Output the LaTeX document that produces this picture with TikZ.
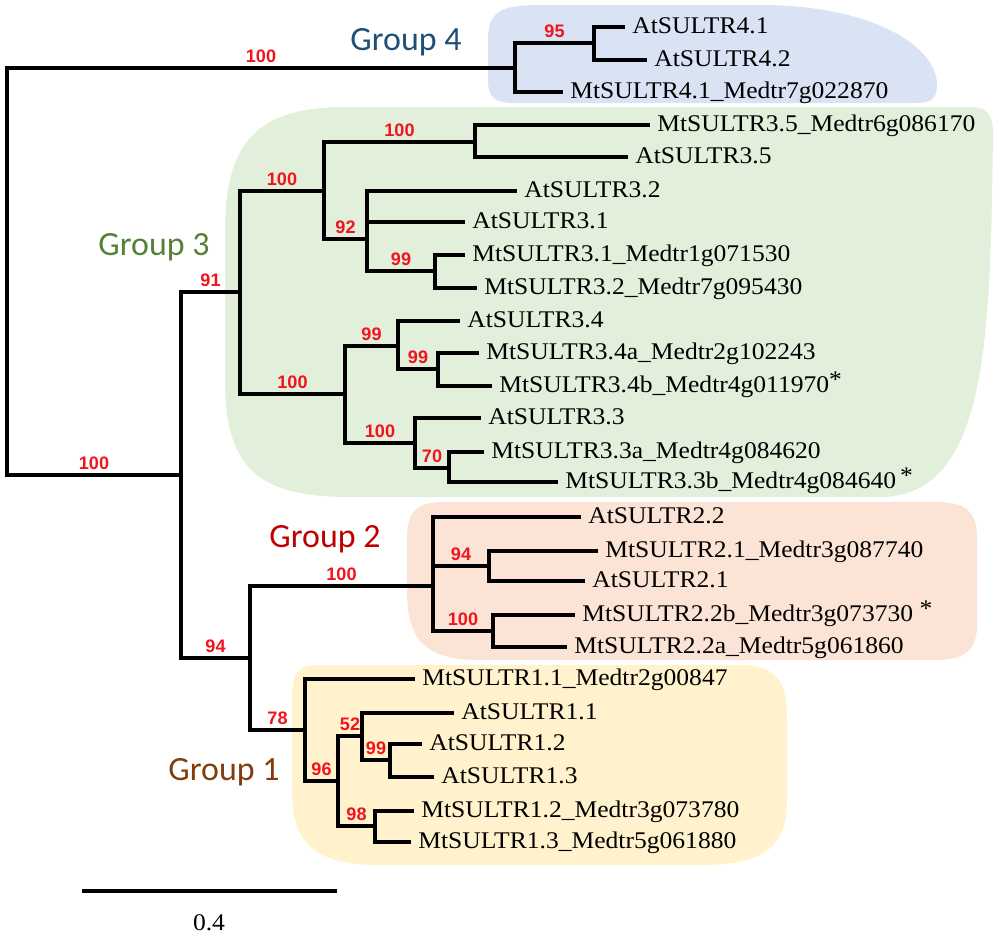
\documentclass[tikz,border=0pt]{standalone}
\usepackage{fontspec}
\setmainfont{Liberation Serif}
\newfontfamily\leaffont{Liberation Serif}[FakeStretch=1.07]
\newfontfamily\bootfont{Liberation Sans}
\newfontfamily\groupfont{Carlito}

\definecolor{bootred}{HTML}{F0141E}
\definecolor{gfour}{HTML}{DAE3F3}
\definecolor{gthree}{HTML}{E2EFDA}
\definecolor{gtwo}{HTML}{FBE4D5}
\definecolor{gone}{HTML}{FFF2CC}
\definecolor{gfourtext}{HTML}{1F4E79}
\definecolor{gthreetext}{HTML}{548235}
\definecolor{gtwotext}{HTML}{C00000}
\definecolor{gonetext}{HTML}{843C0C}

\newcommand\astmark{\raisebox{2.5pt}{*}}

\tikzset{
  branch/.style={line width=1.8pt},
  leaf/.style={anchor=west, inner xsep=4pt, inner ysep=0pt, text height=9.3pt, text depth=2.4pt,
    font=\leaffont\fontsize{13.6pt}{15pt}\selectfont},
  boot/.style={pos=.75, above, inner sep=2.2pt, text=bootred,
    font=\bootfont\bfseries\fontsize{10.3pt}{12pt}\selectfont},
  grouplabel/.style={anchor=base, font=\groupfont\fontsize{19.3pt}{22pt}\selectfont},
}

\begin{document}
\begin{tikzpicture}[x=0.02cm, y=-0.02cm]
\useasboundingbox (0,0) rectangle (1000,937);

% group backgrounds
\fill[gfour] (488,40) .. controls (488,12) and (500,5) .. (540,5) -- (760,5) .. controls (870,5) and (937,45) .. (937,85) .. controls (937,98) and (932,103) .. (915,103) -- (515,103) .. controls (495,103) and (488,98) .. (488,80) -- cycle;
\fill[gthree] (225,230) .. controls (225,140) and (260,107) .. (345,107) -- (970,107) .. controls (988,107) and (993,115) .. (993,135) .. controls (990,330) and (990,497) .. (880,497) -- (350,497) .. controls (260,497) and (225,470) .. (225,380) -- cycle;
\fill[gtwo] (407,540) .. controls (407,512) and (415,502) .. (445,502) -- (937,502) .. controls (970,502) and (977,515) .. (977,540) -- (977,625) .. controls (977,650) and (965,660) .. (935,660) -- (480,660) .. controls (425,660) and (407,640) .. (407,590) -- cycle;
\fill[gone] (292,700) .. controls (292,672) and (297,665) .. (320,665) -- (740,665) .. controls (780,665) and (787,685) .. (787,720) -- (787,800) .. controls (787,850) and (760,865) .. (700,865) -- (380,865) .. controls (310,865) and (292,840) .. (292,790) -- cycle;

\node[grouplabel, text=gfourtext] (g4) at (406,50) {Group 4};
\node[grouplabel, text=gthreetext] (g3) at (154,255) {Group 3};
\node[grouplabel, text=gtwotext] (g2) at (325,547) {Group 2};
\node[grouplabel, text=gonetext] (g1) at (224,780) {Group 1};

% inner nodes of the tree
\coordinate (root) at (7,272);
\coordinate (n4) at (515,68);
\coordinate (n41) at (594,43);
\coordinate (nA) at (181,475);
\coordinate (n3) at (240,292);
\coordinate (nB) at (324,191);
\coordinate (nC) at (475,142);
\coordinate (nD) at (367,239);
\coordinate (nDa) at (367,207);
\coordinate (nE) at (435,271);
\coordinate (nF) at (345,394);
\coordinate (nG) at (398,346);
\coordinate (nH) at (438,369);
\coordinate (nI) at (415,443);
\coordinate (nJ) at (449,468);
\coordinate (nK) at (250,658);
\coordinate (nL) at (433,586);
\coordinate (nLa) at (433,541);
\coordinate (nM) at (489,566);
\coordinate (nN) at (493,631);
\coordinate (nO) at (305,730);
\coordinate (nP) at (338,781);
\coordinate (nQ) at (362,736);
\coordinate (nR) at (390,760);
\coordinate (nS) at (375,826);

% leaves
\node[leaf] (at41) at (625,27) {AtSULTR4.1};
\node[leaf] (at42) at (647,60) {AtSULTR4.2};
\node[leaf] (mt41) at (563,92) {MtSULTR4.1\_Medtr7g022870};
\node[leaf] (mt35) at (650,125) {MtSULTR3.5\_Medtr6g086170};
\node[leaf] (at35) at (628,157) {AtSULTR3.5};
\node[leaf] (at32) at (517,191) {AtSULTR3.2};
\node[leaf] (at31) at (465,222) {AtSULTR3.1};
\node[leaf] (mt31) at (465,255) {MtSULTR3.1\_Medtr1g071530};
\node[leaf] (mt32) at (477,288) {MtSULTR3.2\_Medtr7g095430};
\node[leaf] (at34) at (460,321) {AtSULTR3.4};
\node[leaf] (mt34a) at (479,353) {MtSULTR3.4a\_Medtr2g102243};
\node[leaf] (mt34b) at (492,386) {MtSULTR3.4b\_Medtr4g011970\astmark};
\node[leaf] (at33) at (481,418) {AtSULTR3.3};
\node[leaf] (mt33a) at (484,452) {MtSULTR3.3a\_Medtr4g084620};
\node[leaf] (mt33b) at (558,482) {MtSULTR3.3b\_Medtr4g084640\,\astmark};
\node[leaf] (at22) at (581,517) {AtSULTR2.2};
\node[leaf] (mt21) at (598,551) {MtSULTR2.1\_Medtr3g087740};
\node[leaf] (at21) at (585,581) {AtSULTR2.1};
\node[leaf] (mt22b) at (575,615) {MtSULTR2.2b\_Medtr3g073730 \astmark};
\node[leaf] (mt22a) at (567,647) {MtSULTR2.2a\_Medtr5g061860};
\node[leaf] (mt11) at (415,679) {MtSULTR1.1\_Medtr2g00847};
\node[leaf] (at11) at (454,713) {AtSULTR1.1};
\node[leaf] (at12) at (422,744) {AtSULTR1.2};
\node[leaf] (at13) at (434,777) {AtSULTR1.3};
\node[leaf] (mt12) at (414,811) {MtSULTR1.2\_Medtr3g073780};
\node[leaf] (mt13) at (411,842) {MtSULTR1.3\_Medtr5g061880};

% branches with bootstrap values
\draw[branch] (root) |- node[boot] {100} (n4);
\draw[branch] (n4) |- node[boot] {95} (n41);
\draw[branch] (root) |- node[boot] {100} (nA);
\draw[branch] (nA) |- node[boot] {91} (n3);
\draw[branch] (n3) |- node[boot] {100} (nB);
\draw[branch] (nB) |- node[boot] {100} (nC);
\draw[branch] (nB) |- node[boot] {92} (nD);
\draw[branch] (nD) |- (nDa);
\draw[branch] (nD) |- node[boot] {99} (nE);
\draw[branch] (n3) |- node[boot] {100} (nF);
\draw[branch] (nF) |- node[boot] {99} (nG);
\draw[branch] (nG) |- node[boot] {99} (nH);
\draw[branch] (nF) |- node[boot] {100} (nI);
\draw[branch] (nI) |- node[boot] {70} (nJ);
\draw[branch] (nA) |- node[boot] {94} (nK);
\draw[branch] (nK) |- node[boot] {100} (nL);
\draw[branch] (nL) |- (nLa);
\draw[branch] (nLa) |- node[boot] {94} (nM);
\draw[branch] (nL) |- node[boot] {100} (nN);
\draw[branch] (nK) |- node[boot] {78} (nO);
\draw[branch] (nO) |- node[boot] {96} (nP);
\draw[branch] (nP) |- node[boot] {52} (nQ);
\draw[branch] (nQ) |- node[boot] {99} (nR);
\draw[branch] (nP) |- node[boot] {98} (nS);

% terminal branches
\draw[branch] (n41) |- (at41.west);
\draw[branch] (n41) |- (at42.west);
\draw[branch] (n4) |- (mt41.west);
\draw[branch] (nC) |- (mt35.west);
\draw[branch] (nC) |- (at35.west);
\draw[branch] (nDa) |- (at32.west);
\draw[branch] (nDa) |- (at31.west);
\draw[branch] (nE) |- (mt31.west);
\draw[branch] (nE) |- (mt32.west);
\draw[branch] (nG) |- (at34.west);
\draw[branch] (nH) |- (mt34a.west);
\draw[branch] (nH) |- (mt34b.west);
\draw[branch] (nI) |- (at33.west);
\draw[branch] (nJ) |- (mt33a.west);
\draw[branch] (nJ) |- (mt33b.west);
\draw[branch] (nLa) |- (at22.west);
\draw[branch] (nM) |- (mt21.west);
\draw[branch] (nM) |- (at21.west);
\draw[branch] (nN) |- (mt22b.west);
\draw[branch] (nN) |- (mt22a.west);
\draw[branch] (nO) |- (mt11.west);
\draw[branch] (nQ) |- (at11.west);
\draw[branch] (nR) |- (at12.west);
\draw[branch] (nR) |- (at13.west);
\draw[branch] (nS) |- (mt12.west);
\draw[branch] (nS) |- (mt13.west);

% scale bar
\coordinate (sb0) at (82,891);
\coordinate (sb1) at (337,891);
\draw[branch] (sb0) -- (sb1);
\node[anchor=base, font=\leaffont\fontsize{13.6pt}{15pt}\selectfont] (sblabel) at (209,930) {0.4};

\end{tikzpicture}
\end{document}
